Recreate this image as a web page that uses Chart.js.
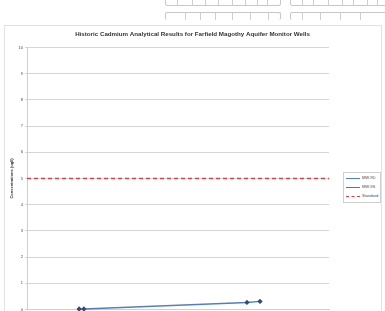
<!DOCTYPE html>
<html>
<head>
<meta charset="utf-8">
<script src="https://cdn.jsdelivr.net/npm/chart.js@4/dist/chart.umd.min.js"></script>
<style>
  html, body { margin: 0; padding: 0; background: #fff; width: 385px; height: 311px; overflow: hidden; }
  #wrap { position: relative; width: 385px; height: 311px; overflow: hidden; }
  canvas { position: absolute; left: 0; top: 0; }
  .cell { position: absolute; border: 1px solid #c8c8c8; border-radius: 2px; box-sizing: border-box; }
  .vline { position: absolute; width: 0; border-left: 1px solid #cfcfcf; }
  #frame { position: absolute; left: 4px; top: 25px; width: 378px; height: 300px; border: 1px solid #e2e2e2; box-sizing: border-box; }
  #legend { position: absolute; left: 343px; top: 172px; width: 38px; height: 31px; border: 1px solid #d0d0d0; box-sizing: border-box; background: #fff;
            font-family: "Liberation Sans", Arial, sans-serif; font-size: 4px; color: #444; }
  .lg { position: absolute; left: 2px; height: 6px; width: 34px; }
  .lg .sw { position: absolute; left: 0; top: 3px; width: 14px; height: 0; }
  .lg .tx { position: absolute; left: 16px; top: 0; line-height: 6px; white-space: nowrap; }
</style>
</head>
<body>
<div id="wrap">
  <div class="cell" style="left:165px; top:-3px; width:116px; height:9px;"></div>
  <div class="cell" style="left:290px; top:-3px; width:100px; height:9px;"></div>
  <div class="cell" style="left:165px; top:12px; width:116px; height:8px; border-bottom:none;"></div>
  <div class="cell" style="left:290px; top:12px; width:100px; height:8px; border-bottom:none;"></div>
  <div id="frame"></div>
  <canvas id="c" width="385" height="315"></canvas>
  <div id="legend"></div>
</div>
<script>
// ---- data ----
const seriesNames = ["MW-9D", "MW-9S", "Standard"];
const sampleDates = [2006.07, 2006.26, 2012.74, 2013.26];
const mw9d = [0.02, 0.02, 0.27, 0.31];
const mw9sDates = [];
const mw9s = [];
const standardDates = [2004, 2016];
const standardValue = [5, 5];
const yTicks = [0, 1, 2, 3, 4, 5, 6, 7, 8, 9, 10];
const chartTitle = "Historic Cadmium Analytical Results for Farfield Magothy Aquifer Monitor Wells";
const yTitle = "Concentrations (ug/l)";

// decorative table cell dividers at top of the page
const wrap = document.getElementById('wrap');
[177,192,205,218,232,245,257,267,302,313,328,342,353,367,377].forEach(x => {
  const d = document.createElement('div'); d.className = 'vline';
  d.style.left = x + 'px'; d.style.top = '0px'; d.style.height = '5px'; wrap.appendChild(d);
});
[185,200,215,232,250,268,302,320,340,360].forEach(x => {
  const d = document.createElement('div'); d.className = 'vline';
  d.style.left = x + 'px'; d.style.top = '13px'; d.style.height = '7px'; wrap.appendChild(d);
});

const colors = { d: '#4f81bd', s: '#c0504d', std: '#d64545' };

const legend = document.getElementById('legend');
const lgItems = [
  { name: seriesNames[0], style: '1.2px solid ' + colors.d },
  { name: seriesNames[1], style: '1.2px solid ' + colors.s },
  { name: seriesNames[2], style: '1.2px dashed ' + colors.std }
];
lgItems.forEach((it, i) => {
  const row = document.createElement('div'); row.className = 'lg';
  row.style.top = (2 + i * 9) + 'px';
  const sw = document.createElement('div'); sw.className = 'sw'; sw.style.borderTop = it.style;
  const tx = document.createElement('div'); tx.className = 'tx'; tx.textContent = it.name;
  row.appendChild(sw); row.appendChild(tx); legend.appendChild(row);
});

new Chart(document.getElementById('c'), {
  type: 'line',
  data: {
    datasets: [
      { label: seriesNames[0], data: sampleDates.map((x, i) => ({ x, y: mw9d[i] })),
        borderColor: colors.d, backgroundColor: '#2f4f7a', borderWidth: 1.5,
        pointStyle: 'rectRot', pointRadius: 1.6, pointBorderColor: '#2f4f7a', pointBackgroundColor: '#2f4f7a', clip: false },
      { label: seriesNames[1], data: mw9sDates.map((x, i) => ({ x, y: mw9s[i] })),
        borderColor: colors.s, backgroundColor: colors.s, borderWidth: 1.5, pointRadius: 1.6, clip: false },
      { label: seriesNames[2], data: standardDates.map((x, i) => ({ x, y: standardValue[i] })),
        borderColor: colors.std, borderWidth: 1.4, borderDash: [4, 3], pointRadius: 0, clip: false }
    ]
  },
  options: {
    responsive: false,
    animation: false,
    devicePixelRatio: 1,
    layout: { padding: { left: 0, right: 0, top: 0, bottom: 2 } },
    plugins: {
      legend: { display: false },
      tooltip: { enabled: false },
      title: { display: true, text: chartTitle, color: '#333',
        font: { family: 'Liberation Sans', size: 6.2, weight: 'bold' },
        padding: { top: 31, bottom: 9 } }
    },
    scales: {
      x: { type: 'linear', min: 2004, max: 2016,
        ticks: { display: false },
        grid: { display: false, drawTicks: false },
        border: { display: true, color: '#cfcfcf', width: 1 } },
      y: { min: 0, max: 10,
        afterFit: (s) => { s.width = 27; },
        afterBuildTicks: (s) => { s.ticks = yTicks.map(v => ({ value: v })); },
        ticks: { color: '#444', font: { family: 'Liberation Sans', size: 4 }, padding: 2 },
        grid: { color: '#d6d6d6', lineWidth: 1, tickLength: 2 },
        border: { display: true, color: '#cfcfcf', width: 1 },
        title: { display: true, text: yTitle, color: '#333',
          font: { family: 'Liberation Sans', size: 4, weight: 'bold' }, padding: { top: 9.5, bottom: 0 } } },
      yRightSpace: { position: 'right', display: true, min: 0, max: 10,
        afterFit: (s) => { s.width = 56; },
        ticks: { display: false }, grid: { display: false, drawTicks: false },
        border: { display: false }, title: { display: false } }
    }
  }
});
</script>
</body>
</html>
